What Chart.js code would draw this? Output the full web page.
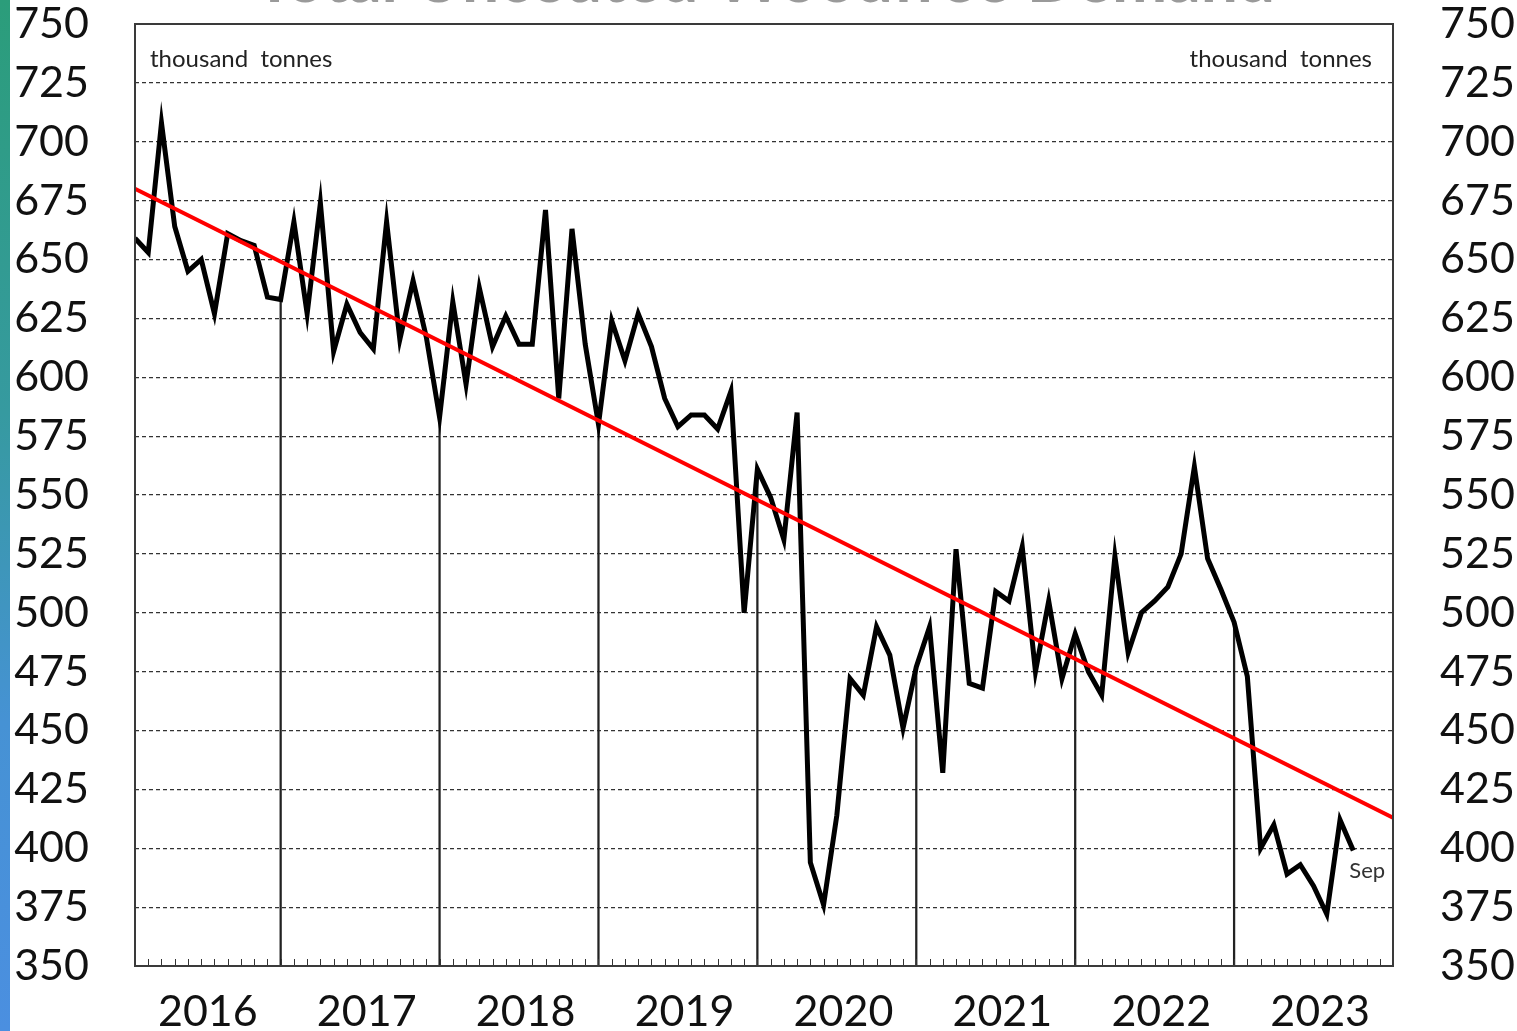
<!DOCTYPE html>
<html>
<head>
<meta charset="utf-8">
<title>Uncoated Woodfree Demand</title>
<script src="https://cdn.jsdelivr.net/npm/chart.js@4.4.0/dist/chart.umd.min.js"></script>
<style>
  html, body { margin: 0; padding: 0; background: #fff; overflow: hidden; }
  #wrap { position: relative; width: 1517px; height: 1031px; }
  #strip {
    position: absolute; left: 0; top: 0; width: 10px; height: 1031px;
    background: linear-gradient(to bottom, #2b9d7a 0%, #369aa0 40%, #4692d4 70%, #4b8fe0 100%);
  }
</style>
</head>
<body>
<div id="wrap">
  <canvas id="demandChart" width="1517" height="1031"></canvas>
  <div id="strip"></div>
</div>
<script>
// monthly demand, thousand tonnes, Jan 2016 .. Sep 2023
const years = ["2016", "2017", "2018", "2019", "2020", "2021", "2022", "2023"];
const demand = [
  659, 653, 708, 664, 645, 650, 627, 661, 658, 656, 634, 633,
  666, 627, 674, 611, 631, 619, 612, 666, 616, 641, 617, 583,
  632, 597, 638, 613, 626, 614, 614, 671, 591, 663, 614, 580,
  624, 607, 627, 613, 591, 579, 584, 584, 578, 594, 500, 561,
  549, 531, 585, 394, 376, 414, 472, 465, 494, 482, 451, 477,
  494, 432, 527, 470, 468, 509, 505, 528, 475, 505, 472, 491,
  475, 465, 524, 483, 500, 505, 511, 525, 562, 523, 510, 496,
  473, 400, 410, 389, 393, 384, 372, 412, 399
];
const trendEnds = [680, 413];
const yMin = 350, yMax = 750, yStep = 25;
const lastMonth = "Sep";
const unitText = "thousand  tonnes";
const titleText = "Total Uncoated Woodfree Demand";

const lastIdx = years.length * 12 - 1;
const tickFont = { family: "Lato", size: 43 };

const extras = {
  id: "extras",
  beforeDraw(chart) {
    const ctx = chart.ctx;
    ctx.save();
    ctx.fillStyle = "#fff";
    ctx.fillRect(0, 0, chart.width, chart.height);
    // title, mostly cut off at the top edge
    ctx.fillStyle = "#9a9a9a";
    ctx.font = "bold 66px Lato";
    ctx.textAlign = "center";
    ctx.textBaseline = "alphabetic";
    ctx.fillText(titleText, 765, 2);
    ctx.restore();
  },
  afterDatasetsDraw(chart) {
    const ctx = chart.ctx;
    const a = chart.chartArea;
    const x = chart.scales.x;
    ctx.save();
    // monthly ticks along the bottom
    ctx.strokeStyle = "#333";
    ctx.lineWidth = 1;
    for (let i = 0; i <= lastIdx; i++) {
      const px = Math.round(x.getPixelForValue(i)) + 0.5;
      ctx.beginPath();
      ctx.moveTo(px, a.bottom);
      ctx.lineTo(px, a.bottom - 7);
      ctx.stroke();
    }
    // frame
    ctx.strokeStyle = "#3a3a3a";
    ctx.lineWidth = 2;
    ctx.strokeRect(a.left, a.top, a.right - a.left, a.bottom - a.top);
    // unit labels
    ctx.fillStyle = "#222";
    ctx.font = "24px Lato";
    ctx.textBaseline = "middle";
    ctx.textAlign = "left";
    ctx.fillText(unitText, a.left + 15, a.top + 35);
    ctx.textAlign = "right";
    ctx.fillText(unitText, a.right - 21, a.top + 35);
    // last month label
    const pts = chart.getDatasetMeta(1).data;
    const last = pts[pts.length - 1];
    ctx.fillStyle = "#333";
    ctx.font = "22px Lato";
    ctx.textAlign = "left";
    ctx.fillText(lastMonth, last.x - 4, last.y + 20);
    ctx.restore();
  }
};

new Chart(document.getElementById("demandChart"), {
  type: "line",
  data: {
    datasets: [
      {
        // December drop lines
        type: "bar",
        data: demand.map((v, i) => ({ x: i, y: [yMin, v] })).filter(p => p.x % 12 === 11),
        backgroundColor: "#222",
        barThickness: 1.6,
        order: 3
      },
      {
        data: demand.map((v, i) => ({ x: i, y: v })),
        borderColor: "#000",
        borderWidth: 5,
        pointRadius: 0,
        tension: 0,
        order: 2
      },
      {
        data: [{ x: 0, y: trendEnds[0] }, { x: lastIdx, y: trendEnds[1] }],
        borderColor: "#ff0000",
        borderWidth: 4,
        pointRadius: 0,
        order: 1
      }
    ]
  },
  options: {
    responsive: false,
    animation: false,
    layout: { padding: { top: 24, left: 0, right: 0, bottom: 0 }, autoPadding: false },
    plugins: { legend: { display: false }, tooltip: { enabled: false } },
    scales: {
      x: {
        type: "linear",
        min: 0,
        max: lastIdx,
        offset: false,
        grid: { display: false },
        border: { display: false },
        afterBuildTicks: (s) => { s.ticks = years.map((_, k) => ({ value: 5.5 + 12 * k })); },
        afterFit: (s) => { s.height = 65; s.paddingLeft = 0; s.paddingRight = 0; },
        ticks: {
          autoSkip: false,
          maxRotation: 0,
          padding: 12,
          color: "#111",
          font: tickFont,
          callback: (v, i) => years[i]
        }
      },
      y: {
        position: "left",
        min: yMin,
        max: yMax,
        afterFit: (s) => { s.width = 135; s.paddingTop = 0; s.paddingBottom = 0; },
        border: { display: false, dash: [4, 3] },
        grid: {
          drawTicks: false,
          lineWidth: 1.2,
          borderDash: [4, 3],
          color: (c) => (c.tick && (c.tick.value === yMin || c.tick.value === yMax)) ? "rgba(0,0,0,0)" : "#333"
        },
        ticks: { stepSize: yStep, padding: 46, color: "#111", font: tickFont }
      },
      y2: {
        position: "right",
        min: yMin,
        max: yMax,
        afterFit: (s) => { s.width = 124; s.paddingTop = 0; s.paddingBottom = 0; },
        border: { display: false },
        grid: { display: false, drawTicks: false },
        ticks: { stepSize: yStep, padding: 47, color: "#111", font: tickFont }
      }
    }
  },
  plugins: [extras]
});
</script>
</body>
</html>
